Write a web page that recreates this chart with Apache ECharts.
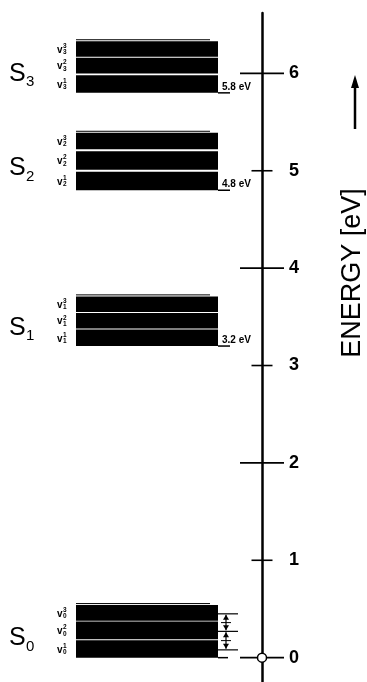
<!DOCTYPE html>
<html><head><meta charset="utf-8">
<script src="https://cdn.jsdelivr.net/npm/echarts@6/dist/echarts.min.js"></script>
<style>html,body{margin:0;padding:0;background:#fff}#c{width:367px;height:682px}</style>
</head><body><div id="c"></div>
<script>
// ---------- data ----------
const states = ['S', 'S', 'S', 'S'];
const stateSub = ['0', '1', '2', '3'];
// vibrational sub-bands (v1, v2, v3) for each state, energies in eV
const bandLow  = [[0.00, 0.19, 0.38], [3.20, 3.38, 3.55], [4.80, 5.01, 5.22], [5.80, 6.00, 6.17]];
const bandHigh = [[0.18, 0.37, 0.54], [3.37, 3.54, 3.71], [4.99, 5.20, 5.39], [5.98, 6.16, 6.33]];
const vibLabels = ['1', '2', '3'];
const onsetValues = [null, 3.2, 4.8, 5.8];
const onsetLabels = ['', '3.2 eV', '4.8 eV', '5.8 eV'];
const tickValues = [0, 1, 2, 3, 4, 5, 6];
const tickLabels = ['0', '1', '2', '3', '4', '5', '6'];
const s0Marks = [0.08, 0.27, 0.45];
const axisTitle = 'ENERGY [eV]';

// ---------- layout ----------
const AXIS_X = 262;
const BAND_X0 = 76, BAND_X1 = 218;
const FONT = 'Liberation Sans, DejaVu Sans, sans-serif';

const bandData = [];
bandLow.forEach((arr, i) => arr.forEach((lo, j) => bandData.push([i, j, lo, bandHigh[i][j]])));
const stateData = states.map((s, i) => [i]);
const tickData = tickValues.map(v => [AXIS_X, v]);

function renderBand(params, api) {
  const s = api.value(0), j = api.value(1), lo = api.value(2), hi = api.value(3);
  const p0 = api.coord([BAND_X0, hi]);
  const p1 = api.coord([BAND_X1, lo]);
  const cy = (p0[1] + p1[1]) / 2;
  const lx = api.coord([57, 0])[0];
  const children = [
    { type: 'rect', shape: { x: p0[0], y: p0[1], width: p1[0] - p0[0], height: p1[1] - p0[1] }, style: { fill: '#000' } },
    { type: 'text', x: lx, y: cy + 1, style: { text: 'v', fontSize: 10, fontWeight: 'bold', fill: '#000', align: 'left', verticalAlign: 'middle', fontFamily: FONT } },
    { type: 'text', x: lx + 6, y: cy - 3, style: { text: vibLabels[j], fontSize: 6.5, fontWeight: 'bold', fill: '#000', align: 'left', verticalAlign: 'middle', fontFamily: FONT } },
    { type: 'text', x: lx + 6, y: cy + 3.5, style: { text: stateSub[s], fontSize: 6.5, fontWeight: 'bold', fill: '#000', align: 'left', verticalAlign: 'middle', fontFamily: FONT } }
  ];
  if (j === bandLow[s].length - 1) {
    children.push({ type: 'line', shape: { x1: p0[0], y1: p0[1] - 1.5, x2: p1[0] - 8, y2: p0[1] - 1.5 }, style: { stroke: '#000', lineWidth: 1 } });
  }
  return { type: 'group', children };
}

function renderState(params, api) {
  const i = api.value(0);
  const lo = Math.min.apply(null, bandLow[i]);
  const hi = Math.max.apply(null, bandHigh[i]);
  const yTop = api.coord([0, hi])[1], yBot = api.coord([0, lo])[1];
  const cy = (yTop + yBot) / 2 + 7;
  const children = [
    { type: 'text', x: 9, y: cy, style: { text: states[i], fontSize: 25, fill: '#000', align: 'left', verticalAlign: 'middle', fontFamily: FONT } },
    { type: 'text', x: 26, y: cy + 8, style: { text: stateSub[i], fontSize: 15, fill: '#000', align: 'left', verticalAlign: 'middle', fontFamily: FONT } }
  ];
  const xEnd = api.coord([BAND_X1, 0])[0];
  if (onsetValues[i] != null) {
    const p = api.coord([BAND_X1, onsetValues[i]]);
    children.push({ type: 'line', shape: { x1: xEnd, y1: p[1], x2: xEnd + 12, y2: p[1] }, style: { stroke: '#000', lineWidth: 1.5 } });
    children.push({ type: 'text', x: xEnd + 4, y: p[1] - 1, style: { text: onsetLabels[i], fontSize: 10, fontWeight: 'bold', fill: '#000', align: 'left', verticalAlign: 'bottom', fontFamily: FONT } });
  } else {
    const p = api.coord([BAND_X1, lo]);
    children.push({ type: 'line', shape: { x1: xEnd, y1: p[1], x2: xEnd + 10, y2: p[1] }, style: { stroke: '#000', lineWidth: 1.5 } });
    const ys = s0Marks.map(m => api.coord([0, m])[1]);
    ys.forEach(y => children.push({ type: 'line', shape: { x1: xEnd, y1: y, x2: xEnd + 20, y2: y }, style: { stroke: '#000', lineWidth: 1.2 } }));
    for (let k = 0; k < ys.length - 1; k++) {
      const ya = ys[k + 1], yb = ys[k], ax = xEnd + 8;
      children.push({ type: 'line', shape: { x1: ax, y1: ya + 1, x2: ax, y2: yb - 1 }, style: { stroke: '#000', lineWidth: 1.2 } });
      children.push({ type: 'polygon', shape: { points: [[ax, ya + 1], [ax - 3, ya + 6], [ax + 3, ya + 6]] }, style: { fill: '#000' } });
      children.push({ type: 'polygon', shape: { points: [[ax, yb - 1], [ax - 3, yb - 6], [ax + 3, yb - 6]] }, style: { fill: '#000' } });
      children.push({ type: 'line', shape: { x1: ax - 5, y1: (ya + yb) / 2, x2: ax + 5, y2: (ya + yb) / 2 }, style: { stroke: '#000', lineWidth: 1 } });
    }
  }
  return { type: 'group', children };
}

function renderTick(params, api) {
  const v = api.value(1);
  const p = api.coord([AXIS_X, v]);
  const half = (v % 2 === 0) ? 22 : 10.5;
  const children = [{ type: 'line', shape: { x1: p[0] - half, y1: p[1], x2: p[0] + half, y2: p[1] }, style: { stroke: '#000', lineWidth: 1.6 } }];
  if (v === 0) {
    children.push({ type: 'circle', shape: { cx: p[0], cy: p[1], r: 4.5 }, style: { fill: '#fff', stroke: '#000', lineWidth: 1.5 } });
  }
  return { type: 'group', children };
}

const chart = echarts.init(document.getElementById('c'), null, { renderer: 'canvas' });
chart.setOption({
  animation: false,
  backgroundColor: '#fff',
  grid: { left: 0, right: 367 - AXIS_X, top: 13, bottom: 0, containLabel: false },
  xAxis: { type: 'value', min: 0, max: AXIS_X, show: false },
  yAxis: {
    type: 'value', min: -0.25, max: 6.62, position: 'right',
    axisLine: { show: true, onZero: false, lineStyle: { color: '#000', width: 2.5 } },
    axisTick: { show: false },
    splitLine: { show: false },
    axisLabel: {
      show: true, customValues: tickValues, margin: 27,
      formatter: v => tickLabels[tickValues.indexOf(v)] || '',
      color: '#000', fontSize: 18, fontWeight: 'bold', fontFamily: FONT
    }
  },
  series: [
    { type: 'custom', renderItem: renderBand, data: bandData, clip: false, silent: true },
    { type: 'custom', renderItem: renderState, data: stateData, clip: false, silent: true },
    { type: 'custom', renderItem: renderTick, data: tickData, clip: false, silent: true, z: 5 }
  ],
  graphic: [
    { type: 'text', x: 353, y: 273, rotation: Math.PI / 2, style: { text: axisTitle, fontSize: 27, fill: '#000', align: 'center', verticalAlign: 'middle', fontFamily: FONT } },
    { type: 'line', shape: { x1: 355, y1: 129, x2: 355, y2: 84 }, style: { stroke: '#000', lineWidth: 2.5 } },
    { type: 'polygon', shape: { points: [[355, 75], [351, 88], [359, 88]] }, style: { fill: '#000' } }
  ]
});
</script>
</body></html>
